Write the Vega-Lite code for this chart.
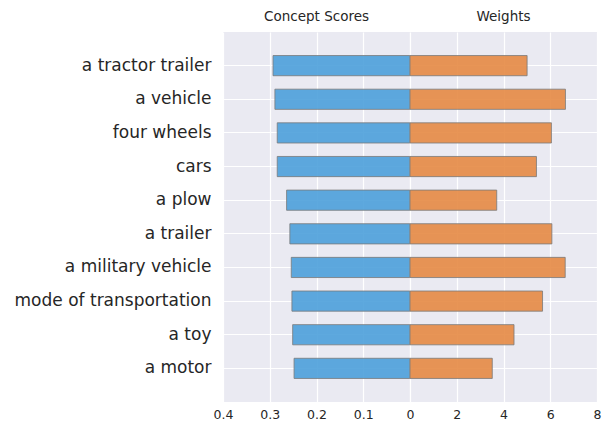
{
  "$schema": "https://vega.github.io/schema/vega-lite/v6.json",
  "padding": {"left": 14, "top": 9, "right": 5, "bottom": 5},
  "background": "white",
  "bounds": "flush",
  "config": {
    "font": "DejaVu Sans",
    "view": {"fill": "#EAEAF2", "stroke": null},
    "axis": {
      "domain": false,
      "ticks": false,
      "gridColor": "white",
      "gridWidth": 1.2,
      "labelColor": "#262626",
      "labelFont": "DejaVu Sans",
      "labelFlush": false,
      "labelLimit": 400,
      "title": null
    },
    "title": {"font": "DejaVu Sans", "fontSize": 13.5, "fontWeight": "normal", "color": "#262626", "offset": 9},
    "concat": {"spacing": 0}
  },
  "data": {
    "values": [
      {"concept": "a tractor trailer", "score": 0.293, "weight": 5.01},
      {"concept": "a vehicle", "score": 0.289, "weight": 6.65},
      {"concept": "four wheels", "score": 0.284, "weight": 6.05},
      {"concept": "cars", "score": 0.284, "weight": 5.41},
      {"concept": "a plow", "score": 0.264, "weight": 3.71},
      {"concept": "a trailer", "score": 0.257, "weight": 6.07},
      {"concept": "a military vehicle", "score": 0.254, "weight": 6.64},
      {"concept": "mode of transportation", "score": 0.2526, "weight": 5.67},
      {"concept": "a toy", "score": 0.251, "weight": 4.45},
      {"concept": "a motor", "score": 0.248, "weight": 3.52}
    ]
  },
  "hconcat": [
    {
      "width": 187,
      "height": 370,
      "title": {"text": "Concept Scores"},
      "mark": {"type": "bar", "fill": "#4DA0DA", "fillOpacity": 0.9, "stroke": "#7a7a7a", "strokeWidth": 0.8},
      "encoding": {
        "y": {
          "field": "concept",
          "type": "nominal",
          "sort": null,
          "scale": {"paddingInner": 0.4, "paddingOuter": 0.7},
          "axis": {"bandPosition": 0.5, "labelFontSize": 17, "labelPadding": 12, "grid": true}
        },
        "x": {
          "field": "score",
          "type": "quantitative",
          "scale": {"domain": [0, 0.4], "reverse": true, "nice": false},
          "axis": {"values": [0, 0.1, 0.2, 0.3, 0.4], "format": "~g", "labelFontSize": 12.5, "labelPadding": 6, "grid": true}
        }
      }
    },
    {
      "width": 187,
      "height": 370,
      "title": {"text": "Weights"},
      "mark": {"type": "bar", "fill": "#E68A44", "fillOpacity": 0.9, "stroke": "#7a7a7a", "strokeWidth": 0.8},
      "encoding": {
        "y": {
          "field": "concept",
          "type": "nominal",
          "sort": null,
          "scale": {"paddingInner": 0.4, "paddingOuter": 0.7},
          "axis": {"bandPosition": 0.5, "labels": false, "grid": true, "labelPadding": 0, "minExtent": 0, "maxExtent": 0, "offset": 0}
        },
        "x": {
          "field": "weight",
          "type": "quantitative",
          "scale": {"domain": [0, 8], "nice": false},
          "axis": {"values": [0, 2, 4, 6, 8], "labelExpr": "datum.value == 0 ? '' : datum.label", "labelFontSize": 12.5, "labelPadding": 6, "grid": true}
        }
      }
    }
  ]
}
